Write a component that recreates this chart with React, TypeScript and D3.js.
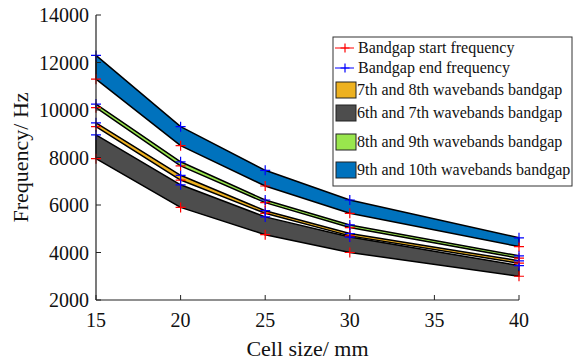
import React from "react";
import * as d3 from "d3";

const cellSizes = [15, 20, 25, 30, 40];
const band67Start = [7950, 5900, 4750, 4000, 3000];
const band67End = [8950, 6850, 5500, 4650, 3450];
const band78Start = [9300, 7050, 5650, 4700, 3550];
const band78End = [9460, 7250, 5760, 4800, 3650];
const band89Start = [10100, 7650, 6100, 5050, 3760];
const band89End = [10250, 7820, 6210, 5160, 3860];
const band910Start = [11300, 8500, 6800, 5650, 4250];
const band910End = [12300, 9300, 7460, 6210, 4620];

const xTicks = [15, 20, 25, 30, 35, 40];
const yTicks = [2000, 4000, 6000, 8000, 10000, 12000, 14000];

const bandNames = [
  "7th and 8th wavebands bandgap",
  "6th and 7th wavebands bandgap",
  "8th and 9th wavebands bandgap",
  "9th and 10th wavebands bandgap",
];
const bandColors = ["#EDB120", "#4D4D4D", "#99E64D", "#0072BD"];
const bandStarts = [band78Start, band67Start, band89Start, band910Start];
const bandEnds = [band78End, band67End, band89End, band910End];

const W = 584;
const H = 363;
const FONT = "'Liberation Serif', 'Times New Roman', serif";

export default function App() {
  const x = d3.scaleLinear().domain([15, 40]).range([96, 519]);
  const y = d3.scaleLinear().domain([2000, 14000]).range([300, 15]);

  const bandPath = (start: number[], end: number[]) => {
    const pts: [number, number][] = [];
    cellSizes.forEach((c, i) => pts.push([x(c), y(end[i])]));
    for (let i = cellSizes.length - 1; i >= 0; i--) pts.push([x(cellSizes[i]), y(start[i])]);
    return d3.line()(pts) + "Z";
  };

  const plus = (cx: number, cy: number, color: string, key: string, s = 5) => (
    <path
      key={key}
      d={`M${cx - s},${cy}H${cx + s}M${cx},${cy - s}V${cy + s}`}
      stroke={color}
      strokeWidth={1.2}
      fill="none"
    />
  );

  const legX = 333;
  const legY = 37;
  const legW = 239;
  const legH = 149;
  const rowY = [48, 68, 90, 113, 142, 170];
  const fs = 16;

  return (
    <div style={{ position: "fixed", left: 0, top: 0 }}>
      <svg width={W} height={H} style={{ display: "block", background: "#fff" }}>
        {bandNames.map((_, bi) => (
          <path
            key={bi}
            d={bandPath(bandStarts[bi], bandEnds[bi])}
            fill={bandColors[bi]}
            stroke="#000"
            strokeWidth={1.5}
            strokeLinejoin="round"
          />
        ))}
        {bandNames.map((_, bi) =>
          cellSizes.map((c, i) => (
            <g key={`m${bi}-${i}`}>
              {plus(x(c), y(bandStarts[bi][i]), "#FF0000", "s")}
              {plus(x(c), y(bandEnds[bi][i]), "#0000FF", "e")}
            </g>
          ))
        )}
        <line x1={96} x2={96} y1={15} y2={300} stroke="#222" strokeWidth={1.2} />
        <line x1={96} x2={519} y1={300} y2={300} stroke="#222" strokeWidth={1.2} />
        {xTicks.map((t) => (
          <g key={`xt${t}`}>
            <line x1={x(t)} x2={x(t)} y1={300} y2={295} stroke="#222" strokeWidth={1} />
            <text x={x(t)} y={327} textAnchor="middle" fontFamily={FONT} fontSize={20} fill="#111">
              {t}
            </text>
          </g>
        ))}
        {yTicks.map((t) => (
          <g key={`yt${t}`}>
            <line x1={96} x2={101} y1={y(t)} y2={y(t)} stroke="#222" strokeWidth={1} />
            <text x={89} y={y(t) + 7} textAnchor="end" fontFamily={FONT} fontSize={20} fill="#111">
              {t}
            </text>
          </g>
        ))}
        <text x={(96 + 519) / 2} y={356} textAnchor="middle" fontFamily={FONT} fontSize={22} fill="#111">
          Cell size/ mm
        </text>
        <text
          transform={`translate(28,${(15 + 300) / 2}) rotate(-90)`}
          textAnchor="middle"
          fontFamily={FONT}
          fontSize={22}
          fill="#111"
        >
          Frequency/ Hz
        </text>
        <rect x={legX} y={legY} width={legW} height={legH} fill="#fff" stroke="#333" strokeWidth={1} />
        <line x1={335} x2={354} y1={rowY[0]} y2={rowY[0]} stroke="#FF0000" strokeWidth={1} />
        {plus(345, rowY[0], "#FF0000", "l1", 4.5)}
        <line x1={335} x2={354} y1={rowY[1]} y2={rowY[1]} stroke="#0000FF" strokeWidth={1} />
        {plus(345, rowY[1], "#0000FF", "l2", 4.5)}
        <text x={358} y={rowY[0] + 5} fontFamily={FONT} fontSize={fs} fill="#111">
          Bandgap start frequency
        </text>
        <text x={358} y={rowY[1] + 5} fontFamily={FONT} fontSize={fs} fill="#111">
          Bandgap end frequency
        </text>
        {bandNames.map((name, bi) => (
          <g key={`lg${bi}`}>
            <rect
              x={336}
              y={rowY[bi + 2] - 8}
              width={20}
              height={16}
              fill={bandColors[bi]}
              stroke="#222"
              strokeWidth={1}
            />
            <text x={357} y={rowY[bi + 2] + 5} fontFamily={FONT} fontSize={fs} fill="#111">
              {name}
            </text>
          </g>
        ))}
      </svg>
    </div>
  );
}
